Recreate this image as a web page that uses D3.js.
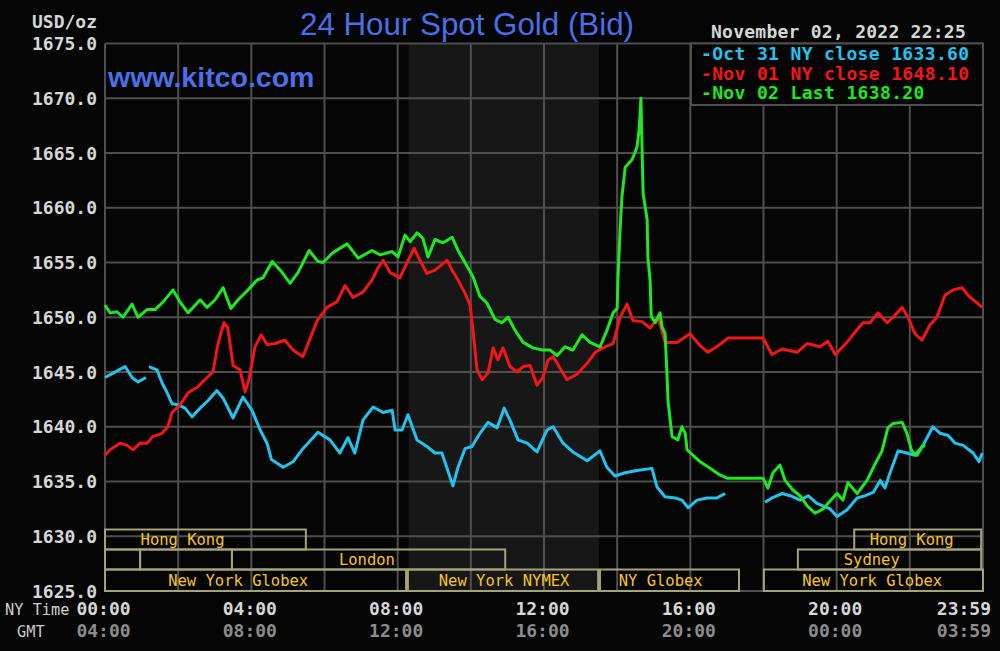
<!DOCTYPE html>
<html><head><meta charset="utf-8">
<script src="https://cdn.jsdelivr.net/npm/d3@7"></script>
<style>html,body{margin:0;padding:0;background:#050505;} svg{display:block;}</style>
</head><body>
<svg id="c" width="1000" height="651"></svg>
<script>
// ---------- data ----------
const priceTicks = [1625,1630,1635,1640,1645,1650,1655,1660,1665,1670,1675];
const hourGrid = [0,2,4,6,8,10,12,14,16,18,20,22,24];
const tickHours = [0,4,8,12,16,20,23.98];
const tickLabelsNY = ["00:00","04:00","08:00","12:00","16:00","20:00","23:59"];
const tickLabelsGMT = ["04:00","08:00","12:00","16:00","20:00","00:00","03:59"];
const legendLabels = ["Oct 31 NY close 1633.60","Nov 01 NY close 1648.10","Nov 02 Last 1638.20"];
const seriesColors = ["#22c4ee","#f21616","#1ee81e"];
const nymexHours = [8.3, 13.5];

// [hour NY time, price]; null = gap
const oct31 = [[0,1644.5],[0.22,1644.9],[0.55,1645.5],[0.74,1644.5],[0.90,1644.1],[1.12,1644.5],null,
[1.20,1645.5],[1.42,1645.2],[1.56,1644.0],[1.70,1643.1],[1.83,1642.1],[2.00,1642.0],[2.19,1641.7],[2.38,1640.9],
[2.60,1641.7],[2.82,1642.4],[3.06,1643.3],[3.23,1642.6],[3.50,1640.8],[3.77,1642.7],[4.02,1641.5],[4.24,1639.7],
[4.43,1638.5],[4.55,1637.0],[4.87,1636.3],[5.14,1636.8],[5.41,1638.0],[5.82,1639.5],[6.15,1638.8],[6.42,1637.6],
[6.64,1639.0],[6.83,1637.6],[7.05,1640.6],[7.33,1641.8],[7.60,1641.3],[7.85,1641.5],[7.93,1639.7],[8.12,1639.7],
[8.28,1641.1],[8.53,1638.8],[8.80,1638.2],[9.02,1637.6],[9.21,1637.6],[9.51,1634.6],[9.65,1636.3],[9.84,1638.0],
[10.03,1638.2],[10.25,1639.4],[10.47,1640.4],[10.72,1639.9],[10.91,1641.7],[11.07,1640.6],[11.29,1638.8],
[11.54,1638.5],[11.81,1637.7],[12.08,1639.7],[12.25,1640.0],[12.52,1638.5],[12.79,1637.7],[13.18,1636.9],
[13.53,1637.8],[13.72,1636.3],[13.94,1635.5],[14.22,1635.8],[14.54,1636.0],[14.95,1636.2],[15.09,1634.5],
[15.31,1633.6],[15.58,1633.5],[15.77,1633.3],[15.94,1632.6],[16.18,1633.3],[16.46,1633.5],[16.73,1633.5],
[16.95,1633.9],null,[18.04,1633.1],[18.23,1633.5],[18.51,1633.9],[18.73,1633.7],[19.00,1633.3],[19.22,1633.7],
[19.46,1633.0],[19.82,1632.5],[20.01,1631.8],[20.28,1632.4],[20.56,1633.5],[20.78,1633.7],[21.00,1634.0],
[21.19,1635.1],[21.32,1634.4],[21.46,1635.8],[21.68,1637.8],[21.92,1637.6],[22.14,1637.4],[22.36,1638.3],
[22.63,1640.0],[22.83,1639.4],[23.05,1639.2],[23.24,1638.5],[23.46,1638.3],[23.73,1637.6],[23.89,1636.8],[23.98,1637.6]];

const nov01 = [[0,1637.4],[0.14,1637.9],[0.41,1638.5],[0.60,1638.3],[0.77,1637.9],[0.96,1638.5],[1.15,1638.5],
[1.31,1639.1],[1.56,1639.4],[1.72,1640.0],[1.83,1641.3],[2.05,1642.0],[2.27,1643.1],[2.52,1643.6],[2.79,1644.5],
[2.95,1645.0],[3.09,1647.6],[3.25,1649.5],[3.36,1649.0],[3.50,1645.6],[3.69,1645.2],[3.83,1643.2],[3.94,1644.4],
[4.10,1647.3],[4.27,1648.4],[4.43,1647.5],[4.65,1647.6],[4.92,1647.9],[5.14,1647.0],[5.41,1646.4],[5.60,1648.0],
[5.80,1649.7],[6.07,1650.9],[6.34,1651.4],[6.56,1652.9],[6.78,1651.8],[7.05,1652.3],[7.30,1653.4],[7.46,1654.5],
[7.60,1655.2],[7.79,1654.1],[8.06,1653.6],[8.26,1655.0],[8.45,1656.3],[8.61,1655.2],[8.80,1654.0],[9.02,1654.3],
[9.35,1655.2],[9.49,1654.3],[9.65,1653.4],[9.84,1652.2],[9.98,1651.1],[10.06,1648.8],[10.17,1645.2],[10.31,1644.3],
[10.47,1644.9],[10.61,1647.2],[10.74,1646.1],[10.88,1647.2],[11.07,1645.5],[11.26,1645.0],[11.43,1645.5],
[11.62,1645.6],[11.81,1643.8],[11.97,1644.5],[12.11,1646.1],[12.25,1646.4],[12.63,1644.3],[12.90,1644.8],
[13.18,1645.8],[13.40,1646.8],[13.61,1647.2],[13.89,1647.6],[14.08,1650.0],[14.27,1651.2],[14.43,1649.7],
[14.68,1649.6],[14.90,1649.0],[15.12,1650.0],[15.31,1647.7],[15.64,1647.7],[15.99,1648.5],[16.27,1647.4],
[16.48,1646.8],[16.76,1647.4],[17.03,1648.1],[17.99,1648.1],[18.23,1646.6],[18.51,1647.1],[18.92,1646.8],
[19.19,1647.6],[19.55,1647.3],[19.76,1647.8],[19.96,1646.6],[20.28,1647.7],[20.59,1649.0],[20.72,1649.5],
[20.91,1649.5],[21.13,1650.4],[21.38,1649.5],[21.54,1650.0],[21.79,1650.9],[21.95,1650.0],[22.14,1648.5],
[22.33,1647.9],[22.55,1649.3],[22.74,1650.0],[22.96,1652.0],[23.18,1652.5],[23.43,1652.7],[23.59,1652.0],
[23.84,1651.3],[23.98,1650.9]];

const nov02 = [[0,1651.1],[0.14,1650.4],[0.33,1650.5],[0.49,1650.0],[0.74,1651.2],[0.90,1650.0],[1.15,1650.7],
[1.37,1650.7],[1.59,1651.4],[1.86,1652.5],[2.05,1651.4],[2.27,1650.4],[2.60,1651.6],[2.79,1650.9],[3.01,1651.6],
[3.23,1652.7],[3.44,1650.8],[3.64,1651.6],[3.91,1652.5],[4.16,1653.4],[4.32,1653.6],[4.57,1655.1],[4.84,1654.1],
[5.06,1653.1],[5.28,1654.1],[5.58,1656.1],[5.82,1655.1],[5.96,1655.0],[6.23,1655.9],[6.62,1656.7],[6.92,1655.4],
[7.30,1656.1],[7.52,1655.7],[7.85,1656.0],[8.01,1655.5],[8.20,1657.5],[8.34,1656.9],[8.53,1657.7],[8.69,1657.2],
[8.83,1655.5],[9.02,1657.1],[9.24,1656.8],[9.49,1657.3],[9.65,1656.1],[9.84,1655.0],[10.06,1653.7],[10.25,1651.9],
[10.44,1651.3],[10.66,1649.8],[10.85,1649.5],[11.02,1650.0],[11.21,1648.8],[11.43,1647.7],[11.70,1647.2],
[11.97,1647.0],[12.17,1647.0],[12.36,1646.5],[12.58,1647.3],[12.79,1647.0],[13.04,1648.4],[13.26,1647.7],
[13.53,1647.3],[13.72,1648.8],[13.89,1650.4],[14.00,1650.8],[14.02,1653.4],[14.08,1658.0],[14.13,1661.0],
[14.22,1663.7],[14.41,1664.4],[14.54,1665.5],[14.60,1667.1],[14.65,1670.0],[14.68,1665.5],[14.71,1661.3],
[14.82,1658.9],[14.84,1655.5],[14.90,1653.4],[14.93,1650.1],[15.04,1649.5],[15.17,1650.4],[15.23,1649.1],
[15.31,1648.5],[15.36,1644.9],[15.39,1642.4],[15.47,1640.0],[15.50,1639.1],[15.66,1638.8],[15.77,1640.0],
[15.86,1639.4],[15.91,1637.9],[16.07,1637.4],[16.27,1636.8],[16.54,1636.2],[16.81,1635.6],[17.00,1635.3],
[17.99,1635.3],[18.12,1634.4],[18.26,1635.8],[18.45,1636.5],[18.59,1635.1],[18.81,1634.2],[19.00,1633.7],
[19.19,1632.8],[19.41,1632.1],[19.63,1632.5],[19.87,1633.4],[20.01,1633.9],[20.17,1633.3],[20.31,1634.9],
[20.56,1633.9],[20.83,1635.1],[21.05,1636.6],[21.24,1637.8],[21.40,1639.9],[21.54,1640.3],[21.79,1640.4],
[21.92,1639.4],[22.05,1637.8],[22.20,1637.4],[22.36,1638.3],[22.42,1638.2]];

const sessionNames = ["Hong Kong","","","London","New York Globex","New York NYMEX","NY Globex","New York Globex","Sydney","Hong Kong"];
const sessionRows  = [0,1,1,1,2,2,2,2,1,0];
const sessionStart = [0,0,0.96,3.47,0,8.28,13.53,18.01,18.94,20.48];
const sessionEnd   = [5.49,0.96,3.47,10.94,8.23,13.48,17.33,24,23.95,23.95];
const sessionLabelAt = [2.12,null,null,7.16,3.64,10.91,15.19,20.97,20.96,22.05];

// ---------- layout ----------
const svg = d3.select("#c");
const L = 105, R = 983, T = 43.5, B = 591;
const x = d3.scaleLinear().domain([0,24]).range([L,R]);
const y = d3.scaleLinear().domain([1625,1675]).range([B,T]);
const mono = "'DejaVu Sans Mono', monospace";

svg.append("rect").attr("width",1000).attr("height",651).attr("fill","#050505");
// NYMEX shading
svg.append("rect").attr("x",x(nymexHours[0])).attr("y",T).attr("width",x(nymexHours[1])-x(nymexHours[0]))
  .attr("height",B-T).attr("fill","#161716");

// grid
const grid = svg.append("g").attr("stroke","#4f4f4f").attr("stroke-width",2);
grid.selectAll("line.h").data(priceTicks).join("line").attr("class","h")
  .attr("x1",L).attr("x2",R).attr("y1",d=>y(d)).attr("y2",d=>y(d));
grid.selectAll("line.v").data(hourGrid).join("line").attr("class","v")
  .attr("x1",d=>x(d)).attr("x2",d=>x(d)).attr("y1",T).attr("y2",B);

// sessions
const rowTop = [529.5, 549.5, 569.5], rowBot = [549.5, 569.5, 591];
const sess = sessionNames.map((n,i)=>({name:n,row:sessionRows[i],s:sessionStart[i],e:sessionEnd[i],lab:sessionLabelAt[i]}));
const sg = svg.append("g");
sg.selectAll("rect").data(sess).join("rect")
  .attr("x",d=>x(d.s)).attr("width",d=>x(d.e)-x(d.s))
  .attr("y",d=>rowTop[d.row]).attr("height",d=>rowBot[d.row]-rowTop[d.row])
  .attr("fill","none").attr("stroke","#a6a27a").attr("stroke-width",2);
sg.selectAll("text").data(sess.filter(d=>d.name)).join("text")
  .attr("x",d=>x(d.lab)).attr("y",d=>rowBot[d.row]-5)
  .attr("text-anchor","middle").attr("font-family",mono).attr("font-size",15.5)
  .attr("fill","#f7c51c").text(d=>d.name);

// lines
const line = d3.line().defined(d=>d!==null).x(d=>x(d[0])).y(d=>y(d[1]));
[oct31, nov01, nov02].forEach((s,i)=>{
  svg.append("path").datum(s).attr("d",line).attr("fill","none")
    .attr("stroke",seriesColors[i]).attr("stroke-width",3).attr("stroke-linejoin","round");
});

// legend box
svg.append("rect").attr("x",691).attr("y",T).attr("width",R-691).attr("height",105-T)
  .attr("fill","#050505").attr("stroke","#4f4f4f").attr("stroke-width",2);
svg.selectAll("text.leg").data(legendLabels).join("text").attr("class","leg")
  .attr("x",701).attr("y",(d,i)=>60+i*19.6)
  .attr("font-family",mono).attr("font-weight","bold").attr("font-size",18).attr("letter-spacing",0.35)
  .attr("fill",(d,i)=>seriesColors[i]).text(d=>"-"+d);

// y labels
svg.selectAll("text.yl").data(priceTicks).join("text").attr("class","yl")
  .attr("x",97).attr("y",d=>y(d)+6.5).attr("text-anchor","end")
  .attr("font-family",mono).attr("font-weight","bold").attr("font-size",18).attr("fill","#d6d6d6")
  .text(d=>d3.format(".1f")(d));
svg.append("text").attr("x",97).attr("y",28).attr("text-anchor","end")
  .attr("font-family",mono).attr("font-weight","bold").attr("font-size",18).attr("fill","#d6d6d6").text("USD/oz");

// x labels
function xlabels(labels, yy, color){
  const g = svg.append("g");
  labels.forEach((lab,i)=>{
    const t = g.append("text").attr("y",yy).attr("text-anchor","middle")
      .attr("font-family",mono).attr("font-weight","bold").attr("font-size",18).attr("fill",color).text(lab);
    const w = t.node().getComputedTextLength();
    t.attr("x", Math.min(x(tickHours[i]) - 1.5, 991 - w/2));
  });
}
xlabels(tickLabelsNY, 615, "#d6d6d6");
xlabels(tickLabelsGMT, 637, "#8c8c8c");
svg.append("text").attr("x",5).attr("y",615).attr("font-family",mono).attr("font-size",15.3)
  .attr("fill","#d0d0d0").text("NY Time");
svg.append("text").attr("x",17).attr("y",637).attr("font-family",mono).attr("font-size",15.3)
  .attr("fill","#c8c8c8").text("GMT");

// titles
svg.append("text").attr("x",467).attr("y",35).attr("text-anchor","middle")
  .attr("font-family","'Liberation Sans', Arial, sans-serif").attr("font-size",31.3)
  .attr("fill","#4a6fe6").text("24 Hour Spot Gold (Bid)");
svg.append("text").attr("x",108).attr("y",87)
  .attr("font-family","'Liberation Sans', Arial, sans-serif").attr("font-weight","bold").attr("font-size",28.5)
  .attr("fill","#4a6fe6").text("www.kitco.com");
svg.append("text").attr("x",711).attr("y",38)
  .attr("font-family",mono).attr("font-weight","bold").attr("font-size",18).attr("letter-spacing",0.25)
  .attr("fill","#d6d6d6").text("November 02, 2022 22:25");
</script>
</body></html>
